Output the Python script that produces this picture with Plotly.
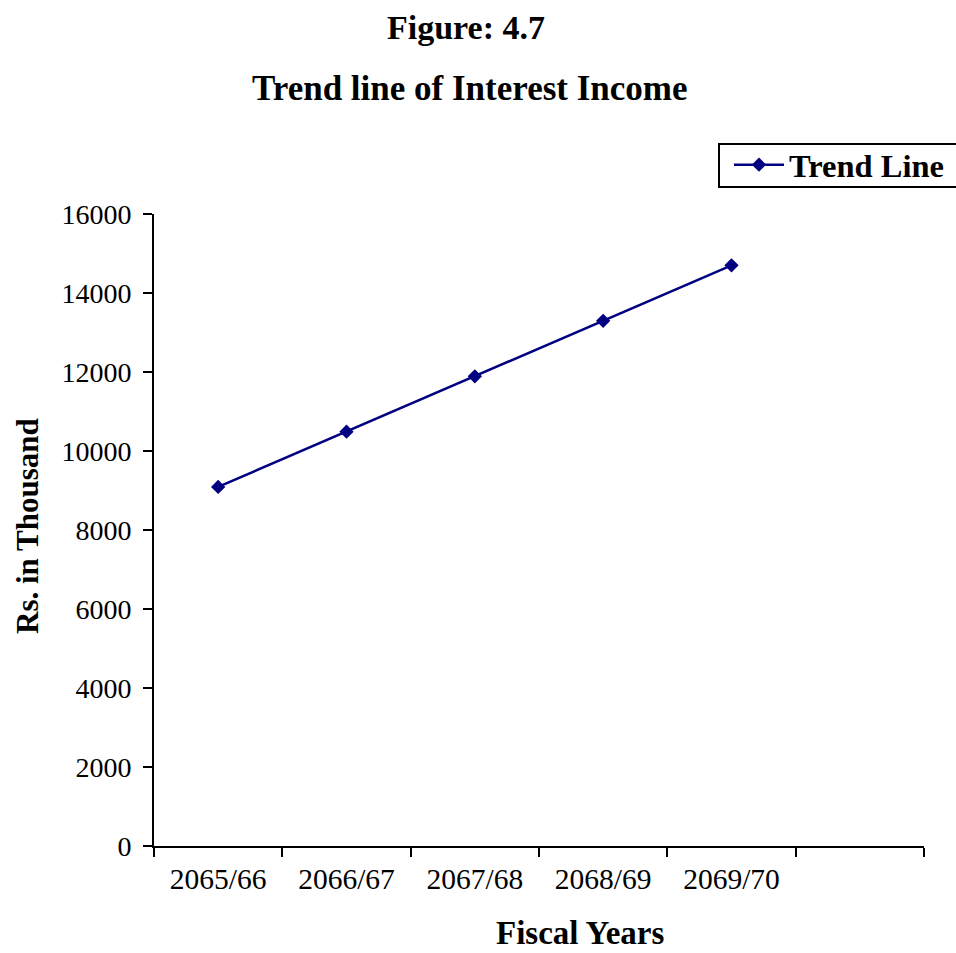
import plotly.graph_objects as go

# Fiscal years (last slot left empty on the axis)
fiscal_years = ["2065/66", "2066/67", "2067/68", "2068/69", "2069/70"]
axis_slots = fiscal_years + [" "]
# Interest income trend values (Rs. in thousand)
trend_values = [9090, 10490, 11890, 13295, 14700]

FONT = "Liberation Serif, Times New Roman, serif"
W, H = 956, 953
L, R, T, B = 154, 32, 214, 107
PW, PH = W - L - R, H - T - B


def px(x):
    return (x - L) / PW


def py(y):
    return (H - B - y) / PH


fig = go.Figure()
fig.add_trace(go.Scatter(
    x=fiscal_years,
    y=trend_values,
    mode="lines+markers",
    name="Trend Line",
    line=dict(color="#000080", width=2.5),
    marker=dict(symbol="diamond", size=11, color="#000080"),
))

fig.update_layout(
    width=W,
    height=H,
    margin=dict(l=L, r=R, t=T, b=B, autoexpand=False),
    paper_bgcolor="white",
    plot_bgcolor="white",
    font=dict(family=FONT, color="black", size=28),
    showlegend=True,
    legend=dict(
        x=px(729), y=py(165), xanchor="left", yanchor="middle",
        borderwidth=0, bgcolor="rgba(0,0,0,0)",
        itemwidth=50,
        font=dict(family=FONT, size=32.5, color="black", weight="bold"),
    ),
    shapes=[
        # legend frame, running off the right edge of the figure
        dict(type="rect", xref="paper", yref="paper",
             x0=px(719), x1=px(960), y0=py(144), y1=py(187),
             line=dict(color="black", width=2), fillcolor="rgba(0,0,0,0)",
             layer="above"),
    ],
    xaxis=dict(
        type="category",
        categoryorder="array",
        categoryarray=axis_slots,
        range=[-0.5, 5.5],
        tickson="boundaries",
        ticks="outside",
        ticklen=9,
        tickwidth=2,
        tickcolor="black",
        showline=True,
        linewidth=2,
        linecolor="black",
        showgrid=False,
        zeroline=False,
        ticklabelstandoff=6,
        tickfont=dict(family=FONT, size=29.5),
    ),
    yaxis=dict(
        range=[0, 16000],
        dtick=2000,
        tick0=0,
        tickformat="d",
        ticks="outside",
        ticklen=9,
        tickwidth=2,
        tickcolor="black",
        showline=True,
        linewidth=2,
        linecolor="black",
        showgrid=False,
        zeroline=False,
        ticklabelstandoff=6,
        tickfont=dict(family=FONT, size=28),
    ),
    annotations=[
        dict(text="<b>Figure: 4.7</b>", x=px(466), y=py(27), xref="paper", yref="paper",
             showarrow=False, xanchor="center", yanchor="middle",
             font=dict(family=FONT, size=34)),
        dict(text="<b>Trend line of Interest Income</b>", x=px(470), y=py(88),
             xref="paper", yref="paper", showarrow=False, xanchor="center",
             yanchor="middle", font=dict(family=FONT, size=35)),
        dict(text="<b>Rs. in Thousand</b>", x=px(27), y=py(526), xref="paper",
             yref="paper", showarrow=False, textangle=-90, xanchor="center",
             yanchor="middle", font=dict(family=FONT, size=31)),
        dict(text="<b>Fiscal Years</b>", x=px(580), y=py(953), xref="paper",
             yref="paper", showarrow=False, xanchor="center", yanchor="bottom",
             font=dict(family=FONT, size=33)),
    ],
)

fig.write_html("out.html")
